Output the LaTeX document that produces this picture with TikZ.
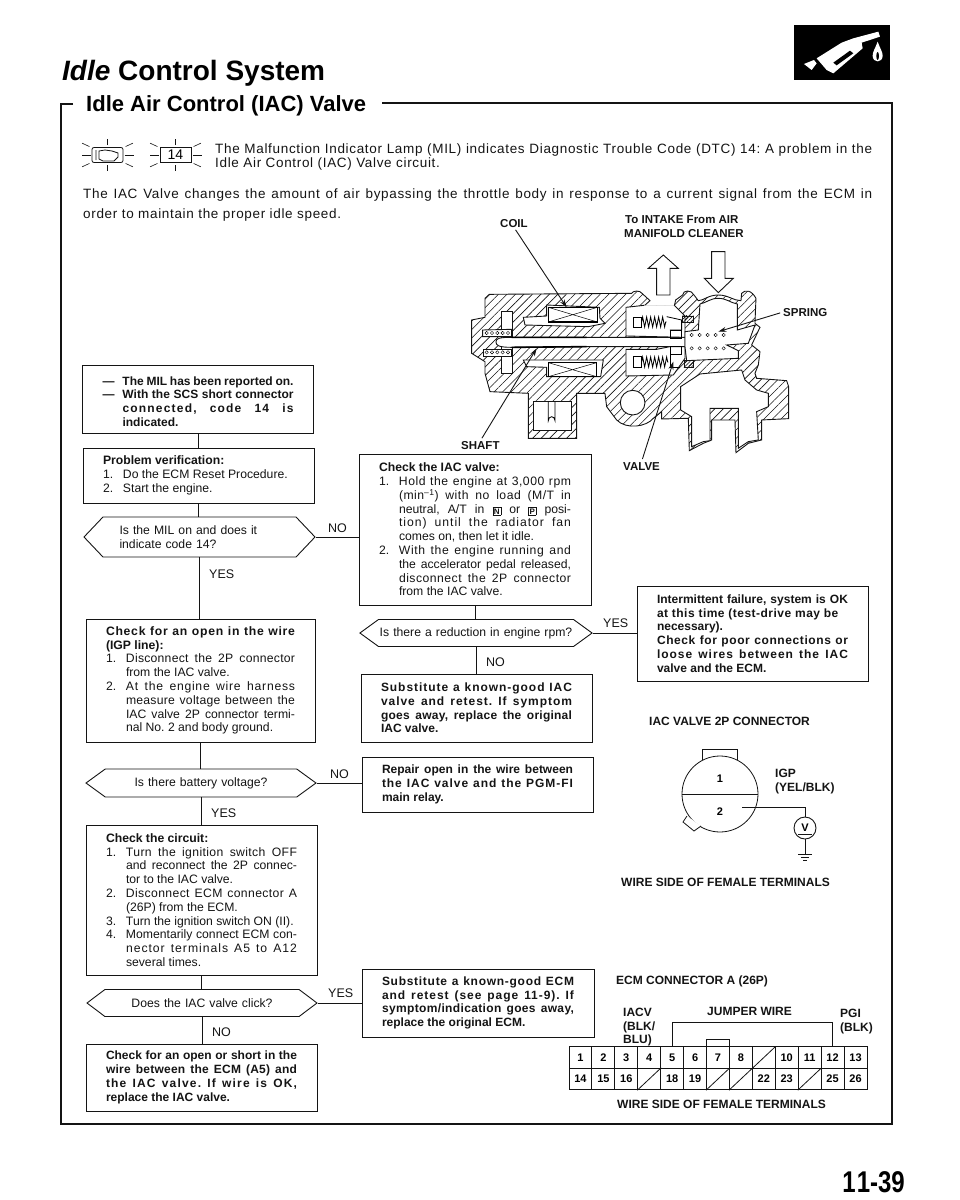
\documentclass[tikz,border=0pt]{standalone}
\usepackage{fontspec}
\setmainfont{Liberation Sans}
\newfontfamily\spacedfont[LetterSpace=5]{Liberation Sans}
\usetikzlibrary{shapes.symbols, arrows.meta, patterns.meta, decorations.pathmorphing}
\definecolor{inkblack}{RGB}{20, 20, 20}
\newcommand{\bodysize}{\frenchspacing\fontsize{12.2pt}{13.8pt}\selectfont}
\newcommand{\boldsize}{\frenchspacing\fontsize{12pt}{13.8pt}\selectfont\bfseries}
\newcommand{\flowitem}[2]{\par\noindent\hangindent=20pt\hangafter=1\makebox[20pt][l]{#1}#2\par}
\newcommand{\shiftkey}[1]{\raisebox{-1pt}{\setlength{\fboxsep}{1pt}\fbox{\fontsize{8pt}{8pt}\selectfont\textbf{#1}}}}
\newcommand{\lsp}[2]{{\addfontfeature{LetterSpace=#1}#2}}
\tikzset{
  flowbox/.style={draw=inkblack, line width=0.9pt, inner xsep=20pt, inner ysep=0pt, text=inkblack, align=justify, font=\bodysize},
  boldbox/.style={flowbox, font=\boldsize},
  flowhex/.style={draw=inkblack, line width=0.9pt, shape=signal, signal to=east and west, inner sep=0pt, text=inkblack, align=left, font=\bodysize},
  flowline/.style={draw=inkblack, line width=0.9pt},
  flowtag/.style={anchor=base west, inner sep=0pt, text=inkblack, font=\fontsize{12.5pt}{14pt}\selectfont},
  partlabel/.style={anchor=base west, inner sep=0pt, text=inkblack, align=left, font=\fontsize{12pt}{13.8pt}\selectfont\bfseries},
  smalllabel/.style={partlabel, font=\fontsize{11.5pt}{13.5pt}\selectfont\bfseries},
  introline/.style={anchor=base west, inner sep=0pt, text=inkblack, font=\frenchspacing\fontsize{13.5pt}{15pt}\spacedfont},
  leader/.style={-{Stealth[length=8pt, width=5pt]}, line width=0.9pt, draw=inkblack, shorten <=3pt},
  hatched/.style={pattern={Lines[angle=45, distance=6pt, line width=0.6pt]}, pattern color=inkblack},
  bodyline/.style={line width=0.9pt, draw=inkblack},
  cavity/.style={line width=0.9pt, draw=inkblack, fill=white},
  pincell/.style={draw=inkblack, line width=0.9pt, minimum width=22.92pt, minimum height=21.5pt, inner sep=0pt, font=\fontsize{11pt}{12pt}\selectfont\bfseries},
}

\begin{document}
\begin{tikzpicture}[x=1pt, y=-1pt]
  \useasboundingbox (0, 0) rectangle (960, 1200);

  % Titles
  \node[anchor=base west, inner sep=0pt, font=\fontsize{28pt}{30pt}\selectfont\bfseries] (pagetitle) at (62, 80) {\textit{Idle} Control System};
  \node[anchor=base west, inner sep=0pt, font=\fontsize{22pt}{26pt}\selectfont\bfseries] (sectitle) at (86, 111) {Idle Air Control (IAC) Valve};
  \coordinate (framestart) at (73, 104);
  \coordinate (frameend) at (382, 103);

  % Outer frame
  \draw[line width=1.5pt, inkblack] (framestart) -- (61, 104) -- (61, 1124) -- (892, 1124) -- (892, 103) -- (frameend);

  % Nozzle badge
  \begin{scope}[shift={(620, 20)}, x=0.3333pt, y=-0.3333pt]
    \fill[black] (522, 15) rectangle (810, 180);
    \fill[white] (552, 132) -- (582, 120) -- (590, 130) -- (575, 150) -- cycle;
    \fill[white] (590, 115) -- (665, 68) -- (700, 55) -- (775, 35) -- (780, 50) -- (725, 68) -- (728, 85) -- (640, 160) -- (620, 150) -- cycle;
    \fill[black] (640, 128) -- (690, 92) -- (700, 100) -- (650, 136) -- cycle;
    \fill[white] (773, 65) .. controls (780, 85) and (788, 95) .. (788, 107) .. controls (788, 130) and (758, 130) .. (758, 107) .. controls (758, 95) and (766, 85) .. (773, 65) -- cycle;
    \fill[black] (773, 108) ellipse (4 and 12);
  \end{scope}

  % Warning lamps
  \node[draw=inkblack, rounded corners=2pt, line width=0.8pt, minimum width=31pt, minimum height=15pt, inner sep=0pt] (lampicon) at (107.5, 155) {};
  \draw[line width=0.8pt, inkblack] (96, 150) -- (96, 160) (99, 151) -- (99, 159) -- (103, 161) -- (114, 161) -- (118, 157) -- (118, 153) -- (112, 151) -- (105, 150) -- cycle;
  \node[draw=inkblack, line width=0.8pt, minimum width=31pt, minimum height=15pt, inner sep=0pt, font=\fontsize{14pt}{15pt}\selectfont] (codeicon) at (175.5, 155) {14};
  \foreach \a/\r/\s in {0/17/26, 180/17/26, 90/10/16, 270/10/16, 25/20/28, 155/20/28, 205/20/28, 335/20/28} {
    \draw[line width=0.6pt, inkblack] ([shift={(\a:\r pt)}]lampicon.center) -- ([shift={(\a:\s pt)}]lampicon.center);
    \draw[line width=0.6pt, inkblack] ([shift={(\a:\r pt)}]codeicon.center) -- ([shift={(\a:\s pt)}]codeicon.center);
  }

  % Intro text
  \node[introline] (introa) at (215, 153) {\makebox[657pt][s]{The Malfunction Indicator Lamp (MIL) indicates Diagnostic Trouble Code (DTC) 14: A problem in the}};
  \node[introline] (introb) at (215, 167) {Idle Air Control (IAC) Valve circuit.};
  \node[introline] (introc) at (83, 198) {\makebox[789pt][s]{The IAC Valve changes the amount of air bypassing the throttle body in response to a current signal from the ECM in}};
  \node[introline] (introd) at (83, 218) {order to maintain the proper idle speed.};

  % Valve section
  \begin{scope}[shift={(440, 230)}, x=0.3333pt, y=-0.3333pt]
    \draw[bodyline, hatched] (135, 205) -- (148, 193) -- (575, 190) .. controls (578, 182) and (600, 180) .. (606, 190) -- (630, 212) -- (612, 228) -- (703, 228) -- (707, 210) -- (728, 195) .. controls (728, 180) and (755, 178) .. (762, 195) -- (775, 212) .. controls (790, 212) and (805, 195) .. (835, 195) .. controls (865, 195) and (880, 212) .. (903, 212) -- (905, 190) .. controls (915, 178) and (935, 180) .. (948, 205) -- (945, 280) -- (960, 292) -- (935, 345) -- (960, 365) -- (955, 405) -- (945, 430) -- (950, 445) -- (1040, 452) -- (1046, 470) -- (1046, 566) -- (965, 570) -- (965, 630) -- (925, 640) -- (888, 668) -- (885, 570) -- (815, 570) -- (815, 630) -- (790, 640) -- (748, 662) -- (745, 565) -- (665, 567) -- (665, 545) -- (640, 565) .. controls (620, 590) and (560, 600) .. (530, 570) -- (500, 530) -- (495, 490) -- (410, 490) -- (410, 625) -- (265, 625) -- (265, 490) -- (150, 485) -- (135, 430) -- (135, 395) -- (95, 370) -- (95, 270) -- (135, 262) -- cycle;

    % Lower right passage
    \draw[cavity] (722, 470) -- (780, 432) -- (905, 420) -- (915, 450) -- (950, 480) -- (985, 490) -- (985, 530) -- (950, 545) -- (955, 630) -- (925, 635) -- (895, 655) -- (895, 535) -- (810, 535) -- (810, 632) -- (790, 635) -- (755, 650) -- (755, 560) -- (722, 540) -- cycle;

    % Coils
    \draw[cavity] (250, 262) -- (320, 258) -- (320, 225) -- (478, 232) -- (480, 265) -- (495, 280) -- (445, 290) -- (255, 285) -- cycle;
    \draw[cavity] (250, 390) -- (490, 390) -- (482, 440) -- (320, 440) -- (320, 412) -- (260, 410) -- cycle;
    \draw[line width=1.2pt] (325, 232) rectangle (472, 276);
    \draw[line width=1.2pt] (325, 398) rectangle (470, 440);
    \draw[line width=0.5pt] (325, 232) -- (472, 276) (325, 276) -- (472, 232);
    \draw[line width=0.5pt] (325, 398) -- (470, 440) (325, 440) -- (470, 398);

    % Left disc and springs
    \draw[cavity] (183, 243) rectangle (218, 430);
    \draw[cavity] (128, 300) -- (215, 298) -- (215, 320) -- (128, 320) -- cycle;
    \draw[cavity] (130, 358) -- (215, 358) -- (215, 378) -- (130, 378) -- cycle;
    \foreach \s in {140, 156, ..., 204} {
      \draw[line width=0.4pt] (\s, 309) circle (5);
      \draw[line width=0.4pt] (\s, 367) circle (5);
    }

    % Shaft
    \draw[cavity] (168, 336) .. controls (168, 326) and (175, 322) .. (215, 322) -- (735, 322) -- (735, 350) -- (440, 350) -- (215, 352) .. controls (175, 352) and (168, 346) .. (168, 336) -- cycle;
    \draw[line width=1.6pt] (215, 322) -- (440, 322) (215, 352) -- (440, 350);

    % Spring chambers
    \draw[cavity] (612, 226) -- (558, 232) -- (558, 318) -- (735, 322) -- (735, 258) -- (703, 226);
    \draw[cavity] (558, 358) -- (650, 358) -- (690, 350) -- (735, 350) -- (735, 385) -- (700, 435) -- (558, 438) -- cycle;
    \draw[line width=0.8pt, decorate, decoration={zigzag, segment length=4pt, amplitude=5pt}] (605, 276) -- (680, 276);
    \draw[line width=0.8pt, decorate, decoration={zigzag, segment length=4pt, amplitude=5pt}] (605, 396) -- (685, 396);
    \draw[line width=0.8pt] (580, 262) -- (605, 262) -- (605, 292) -- (580, 292) -- cycle;
    \draw[line width=0.8pt] (580, 380) -- (605, 380) -- (605, 412) -- (580, 412) -- cycle;
    \draw[line width=0.8pt] (680, 260) -- (725, 270) -- (725, 300) -- (690, 300);
    \draw[line width=0.8pt] (690, 300) rectangle (725, 325);
    \draw[line width=0.8pt] (690, 350) rectangle (725, 372);
    \draw[line width=0.8pt] (690, 372) -- (690, 412) -- (720, 412);
    \draw[bodyline, pattern={Lines[angle=45, distance=2.5pt, line width=0.5pt]}] (728, 258) rectangle (760, 278);
    \draw[bodyline, pattern={Lines[angle=45, distance=2.5pt, line width=0.5pt]}] (732, 392) rectangle (760, 413);

    % Right chamber
    \draw[cavity] (780, 222) .. controls (800, 218) and (810, 205) .. (835, 205) .. controls (860, 205) and (870, 218) .. (892, 222) -- (892, 300) -- (945, 285) -- (925, 340) -- (860, 345) -- (895, 362) -- (895, 385) -- (740, 392) -- (735, 350) -- (735, 305) -- (775, 300) -- cycle;
    \foreach \s in {755, 779, ..., 851} {
      \draw[line width=0.4pt] (\s, 315) circle (5);
      \draw[line width=0.4pt] (\s, 355) circle (5);
    }

    % Round port and socket
    \draw[cavity] (578, 518) circle (37);
    \draw[cavity] (280, 515) rectangle (395, 600);
    \draw[line width=0.8pt] (325, 515) -- (325, 572) arc[start angle=180, end angle=360, x radius=10, y radius=12] -- (345, 515);

    % Flow arrows
    \draw[cavity] (670, 75) -- (715, 115) -- (690, 115) -- (690, 195) -- (650, 195) -- (650, 115) -- (625, 115) -- cycle;
    \draw[cavity] (835, 188) -- (793, 145) -- (815, 145) -- (815, 65) -- (855, 65) -- (855, 145) -- (880, 145) -- cycle;

    % Leader tips
    \coordinate (coiltip) at (380, 232);
    \coordinate (springtip) at (835, 305);
    \coordinate (shafttip) at (290, 355);
    \coordinate (valvetip) at (700, 395);
  \end{scope}

  % Valve labels
  \node[smalllabel] (coillabel) at (500, 227) {COIL};
  \node[smalllabel] (portlabel) at (625, 223) {To INTAKE From AIR};
  \node[smalllabel] (cleanerlabel) at (624, 237) {MANIFOLD CLEANER};
  \node[smalllabel] (springlabel) at (783, 316) {SPRING};
  \node[smalllabel] (shaftlabel) at (461, 449) {SHAFT};
  \node[smalllabel] (valvelabel) at (623, 470) {VALVE};
  \draw[leader] (coillabel.south) -- (coiltip);
  \draw[leader] (springlabel.west) -- (springtip);
  \draw[leader] (shaftlabel.north) -- (shafttip);
  \draw[leader] (valvelabel.north) -- (valvetip);

  % Left column
  \node[boldbox, text width=191pt, minimum height=68pt] (milbox) at (198, 399) {%
    \flowitem{---}{The MIL has been reported on.}
    \flowitem{---}{With the SCS short connector\linebreak \lsp{10}{connected, code 14 is}\linebreak indicated.}};
  \node[flowbox, text width=191pt, minimum height=55pt] (probbox) at (198.5, 475.5) {%
    \noindent\textbf{Problem verification:}
    \flowitem{1.}{Do the ECM Reset Procedure.}
    \flowitem{2.}{Start the engine.}};
  \node[flowhex, text width=160pt, minimum width=231pt, minimum height=40pt, signal pointer angle=93] (milhex) at (199.5, 537) {Is the MIL on and does it\\indicate code 14?};
  \node[flowbox, text width=189pt, minimum height=123pt] (openbox) at (200.5, 680.5) {%
    \noindent\textbf{\lsp{6}{Check for an open in the wire}\linebreak (IGP line):}
    \flowitem{1.}{\lsp{2}{Disconnect the 2P connector}\linebreak from the IAC valve.}
    \flowitem{2.}{\lsp{6}{At the engine wire harness}\linebreak \lsp{2}{measure voltage between the}\linebreak IAC valve 2P connector termi-\linebreak nal No. 2 and body ground.}};
  \node[flowhex, align=center, text width=180pt, minimum width=230pt, minimum height=28pt, signal pointer angle=72] (battery) at (201, 783) {Is there battery voltage?};
  \node[flowbox, text width=191pt, minimum height=150pt] (circuitbox) at (201.5, 900) {%
    \noindent\textbf{Check the circuit:}
    \flowitem{1.}{\lsp{3}{Turn the ignition switch OFF}\linebreak and reconnect the 2P connec-\linebreak tor to the IAC valve.}
    \flowitem{2.}{\lsp{3}{Disconnect ECM connector A}\linebreak (26P) from the ECM.}
    \flowitem{3.}{Turn the ignition switch ON (II).}
    \flowitem{4.}{Momentarily connect ECM con-\linebreak \lsp{8}{nector terminals A5 to A12}\linebreak several times.}};
  \node[flowhex, align=center, text width=180pt, minimum width=230pt, minimum height=27pt, signal pointer angle=74] (clickhex) at (202, 1003) {Does the IAC valve click?};
  \node[boldbox, text width=191pt, minimum height=67pt] (shortbox) at (201.5, 1077.5) {%
    \noindent Check for an open or short in the\linebreak \lsp{2}{wire between the ECM (A5) and}\linebreak \lsp{10}{the IAC valve. If wire is OK,}\linebreak replace the IAC valve.};

  % Middle column
  \node[flowbox, text width=192pt, minimum height=151pt] (iacbox) at (475, 529.5) {%
    \noindent\textbf{Check the IAC valve:}
    \flowitem{1.}{\lsp{4}{Hold the engine at 3,000 rpm}\linebreak \lsp{4}{(min\textsuperscript{--1}) with no load (M/T in}\linebreak neutral, A/T in \shiftkey{N} or \shiftkey{P} posi-\linebreak \lsp{8}{tion) until the radiator fan}\linebreak comes on, then let it idle.}
    \flowitem{2.}{\lsp{5}{With the engine running and}\linebreak the accelerator pedal released,\linebreak \lsp{4}{disconnect the 2P connector}\linebreak from the IAC valve.}};
  \node[flowhex, align=center, text width=195pt, minimum width=230pt, minimum height=27pt, signal pointer angle=72] (rpmhex) at (476, 633) {Is there a reduction in engine rpm?};
  \node[boldbox, text width=191pt, minimum height=68pt] (subiac) at (476.5, 708) {%
    \noindent \lsp{8}{Substitute a known-good IAC}\linebreak \lsp{8}{valve and retest. If symptom}\linebreak \lsp{2}{goes away, replace the original}\linebreak IAC valve.};
  \node[boldbox, text width=191pt, minimum height=55pt] (repairbox) at (477.5, 784.5) {%
    \noindent Repair open in the wire between\linebreak \lsp{8}{the IAC valve and the PGM-FI}\linebreak main relay.};
  \node[boldbox, text width=192pt, minimum height=68pt] (subecm) at (478, 1003) {%
    \noindent \lsp{6}{Substitute a known-good ECM}\linebreak \lsp{8}{and retest (see page 11-9). If}\linebreak \lsp{3}{symptom/indication goes away,}\linebreak replace the original ECM.};

  % Right column box
  \node[boldbox, text width=191pt, minimum height=95pt] (intermit) at (752.5, 633.5) {%
    \noindent Intermittent failure, system is OK\linebreak \lsp{4}{at this time (test-drive may be}\par\noindent necessary).\par\noindent \lsp{5}{Check for poor connections or}\linebreak \lsp{8}{loose wires between the IAC}\linebreak valve and the ECM.};

  % Flow connectors
  \draw[flowline] (milbox.south) -- (milbox.south |- probbox.north);
  \draw[flowline] (probbox.south) -- (probbox.south |- milhex.north);
  \draw[flowline] (milhex.south) -- (milhex.south |- openbox.north);
  \draw[flowline] (openbox.south) -- (openbox.south |- battery.north);
  \draw[flowline] (battery.south) -- (battery.south |- circuitbox.north);
  \draw[flowline] (circuitbox.south) -- (circuitbox.south |- clickhex.north);
  \draw[flowline] (clickhex.south) -- (clickhex.south |- shortbox.north);
  \draw[flowline] (iacbox.south) -- (iacbox.south |- rpmhex.north);
  \draw[flowline] (rpmhex.south) -- (rpmhex.south |- subiac.north);
  \draw[flowline] (milhex.east) -- (milhex.east -| iacbox.west);
  \draw[flowline] (battery.east) -- (battery.east -| repairbox.west);
  \draw[flowline] (clickhex.east) -- (clickhex.east -| subecm.west);
  \draw[flowline] (rpmhex.east) -- (rpmhex.east -| intermit.west);

  % Flow tags
  \node[flowtag] (tagmilno) at (328, 532) {NO};
  \node[flowtag] (tagmilyes) at (209, 578) {YES};
  \node[flowtag] (tagbatno) at (330, 778) {NO};
  \node[flowtag] (tagbatyes) at (211, 817) {YES};
  \node[flowtag] (tagclickyes) at (328, 997) {YES};
  \node[flowtag] (tagclickno) at (212, 1036) {NO};
  \node[flowtag] (tagrpmyes) at (603, 627) {YES};
  \node[flowtag] (tagrpmno) at (486, 666) {NO};

  % 2P connector
  \node[partlabel] (twoptitle) at (649, 725) {IAC VALVE 2P CONNECTOR};
  \node[draw=inkblack, line width=0.8pt, minimum width=35pt, minimum height=14pt, inner sep=0pt] (twopkey) at (719.5, 756) {};
  \node[circle, draw=inkblack, fill=white, line width=0.8pt, minimum size=76pt, inner sep=0pt] (twopbody) at (720, 794) {};
  \draw[line width=0.8pt, inkblack, fill=white] (687, 816) -- (683, 822) -- (694, 831) -- (701, 826);
  \draw[line width=0.8pt, inkblack] (twopbody.west) -- (twopbody.east);
  \node[font=\fontsize{11pt}{12pt}\selectfont\bfseries] (pinone) at (720, 779) {1};
  \node[font=\fontsize{11pt}{12pt}\selectfont\bfseries] (pintwo) at (720, 812) {2};
  \node[partlabel] (igplabel) at (775, 777) {IGP};
  \node[partlabel] (igpwire) at (775, 791) {(YEL/BLK)};
  \coordinate (igptap) at (742, 807);
  \node[circle, draw=inkblack, line width=0.9pt, minimum size=22pt, inner sep=0pt, font=\fontsize{11pt}{12pt}\selectfont\bfseries] (voltmeter) at (805, 828) {\raisebox{1.5pt}{V}};
  \coordinate (groundpt) at (805, 854);
  \draw[line width=0.8pt, inkblack] (igptap) -| (voltmeter.north);
  \draw[line width=0.8pt, inkblack] (voltmeter.south) -- (groundpt);
  \draw[line width=0.8pt, inkblack] (798, 834) -- (812, 834) (798, 854) -- (812, 854) (801, 857) -- (809, 857) (803, 860) -- (807, 860);
  \node[partlabel] (twopside) at (621, 886) {WIRE SIDE OF FEMALE TERMINALS};

  % ECM connector
  \node[partlabel] (ecmtitle) at (616, 984) {ECM CONNECTOR A (26P)};
  \node[partlabel] (iacvlabel) at (623, 1016) {IACV};
  \node[partlabel] (iacvwirea) at (623, 1030) {(BLK/};
  \node[partlabel] (iacvwireb) at (623, 1043) {BLU)};
  \node[partlabel] (jumperlabel) at (707, 1015) {JUMPER WIRE};
  \node[partlabel] (pgilabel) at (840, 1017) {PGI};
  \node[partlabel] (pgiwire) at (840, 1031) {(BLK)};
  \foreach \i/\t in {1/1, 2/2, 3/3, 4/4, 5/5, 6/6, 7/7, 8/8, 9/, 10/10, 11/11, 12/12, 13/13} {
    \node[pincell] (top\i) at ({569 + (\i - 0.5) * 22.92}, 1057.5) {\t};
  }
  \foreach \i/\t in {1/14, 2/15, 3/16, 4/, 5/18, 6/19, 7/, 8/, 9/22, 10/23, 11/, 12/25, 13/26} {
    \node[pincell] (low\i) at ({569 + (\i - 0.5) * 22.92}, 1079) {\t};
  }
  \foreach \n in {top9, low4, low7, low8, low11} {
    \draw[line width=0.8pt, inkblack] (\n.south west) -- (\n.north east);
  }
  \draw[line width=0.8pt, inkblack] (top7.north west) -- ++(0, -7) -| (top7.north east);
  \draw[line width=0.8pt, inkblack] (top5.north) |- (832, 1022) -- (832, 1047);
  \node[partlabel] (ecmside) at (617, 1108) {WIRE SIDE OF FEMALE TERMINALS};

  % Page number
  \node[anchor=base east, inner sep=0pt, font=\fontsize{24pt}{28pt}\selectfont\bfseries] (pagenum) at (905, 1192) {\scalebox{1}[1.25]{1\kern1pt1-39}};
\end{tikzpicture}
\end{document}
